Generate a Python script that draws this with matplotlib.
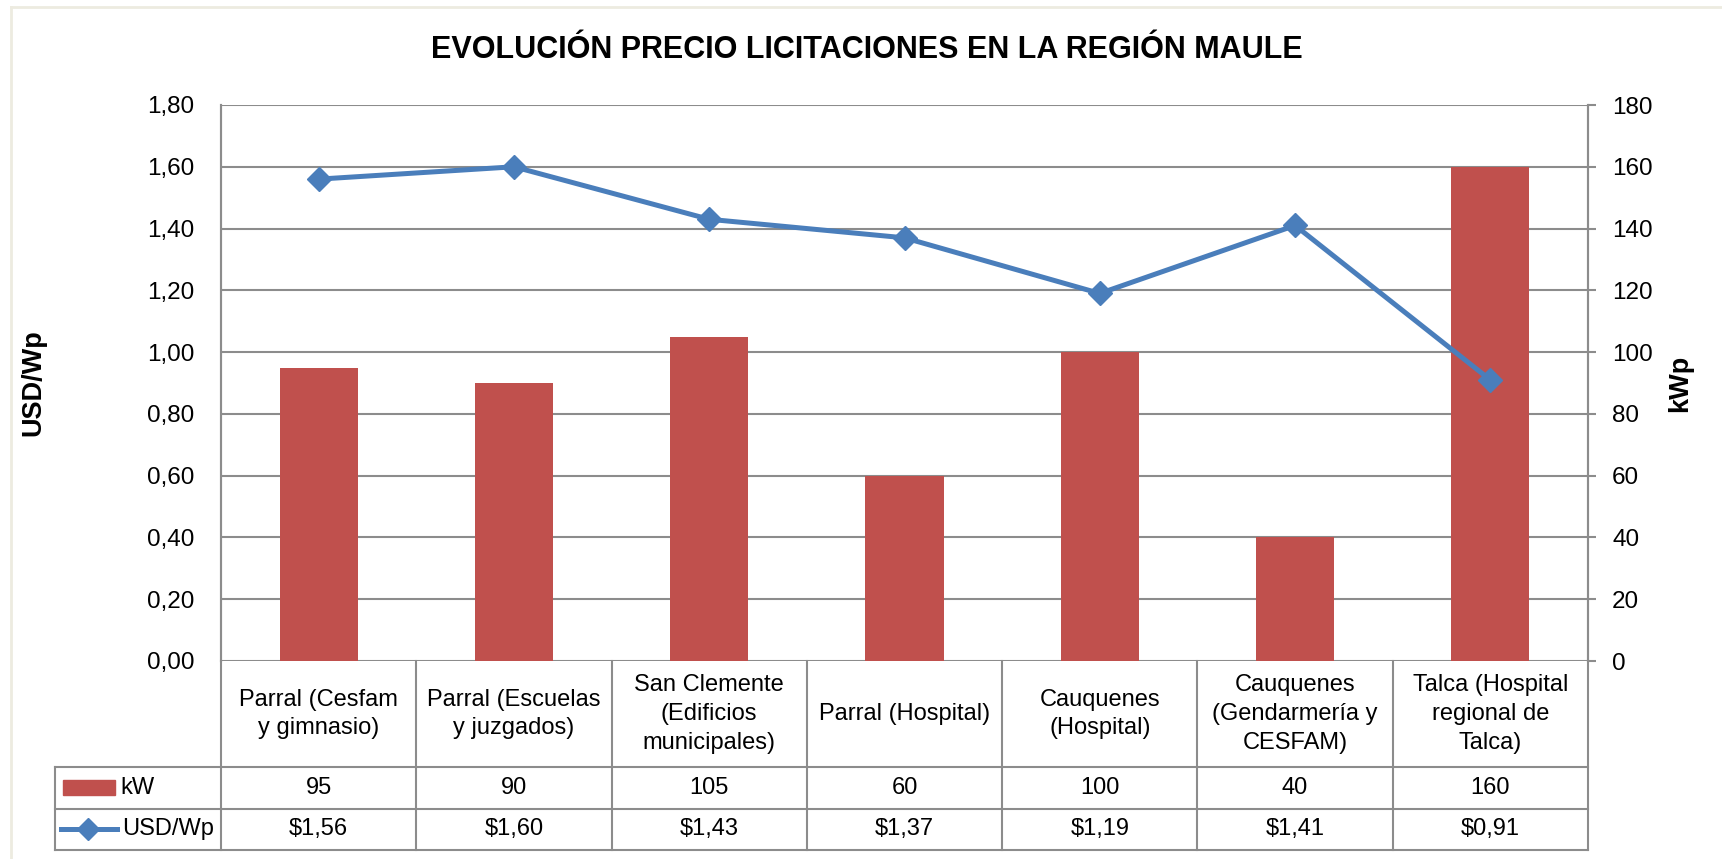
import numpy as np
import matplotlib
matplotlib.use("Agg")
import matplotlib.pyplot as plt
from matplotlib.patches import Rectangle
from matplotlib.lines import Line2D

plt.rcParams['font.family'] = ['Liberation Sans', 'DejaVu Sans']

# data
categories = ["Parral (Cesfam\ny gimnasio)", "Parral (Escuelas\ny juzgados)",
              "San Clemente\n(Edificios\nmunicipales)", "Parral (Hospital)",
              "Cauquenes\n(Hospital)", "Cauquenes\n(Gendarmería y\nCESFAM)",
              "Talca (Hospital\nregional de\nTalca)"]
kw = [95, 90, 105, 60, 100, 40, 160]
usd_wp = [1.56, 1.60, 1.43, 1.37, 1.19, 1.41, 0.91]

bar_color = '#C0504D'
line_color = '#4A7EBB'
grid_color = '#8C8C8C'

W, H = 1722, 859
fig = plt.figure(figsize=(W / 100, H / 100), dpi=100)

# plot area in pixels: x 221..1588, y 105..661
L, R, T, B = 221, 1588, 105, 661
ax = fig.add_axes([L / W, 1 - B / H, (R - L) / W, (B - T) / H])
ax2 = ax.twinx()

x = np.arange(len(categories))

# bars on the right axis (kWp)
ax2.bar(x, kw, width=0.4, color=bar_color, zorder=2)
ax2.set_ylim(0, 180)
ax2.set_yticks(np.arange(0, 181, 20))
ax2.set_axisbelow(True)
ax2.grid(axis='y', color=grid_color, linewidth=1.5)
ax2.tick_params(axis='y', length=5.8, width=1.5, color=grid_color,
                pad=11.5, labelsize=17.5)

# line on the left axis (USD/Wp)
ax.set_zorder(ax2.get_zorder() + 1)
ax.patch.set_visible(False)
ax.plot(x, usd_wp, color=line_color, linewidth=3.6, marker='D',
        markersize=12, zorder=3)
ax.set_ylim(0, 1.8)
ax.set_yticks(np.arange(0, 1.81, 0.2))
ax.set_yticklabels([f"{v:.2f}".replace('.', ',') for v in np.arange(0, 1.81, 0.2)])
ax.tick_params(axis='y', length=0, pad=19, labelsize=17.5)
ax.set_xlim(-0.5, len(categories) - 0.5)
ax.set_xticks([])

for a in (ax, ax2):
    for side in ('top', 'bottom'):
        a.spines[side].set_visible(False)
    for side in ('left', 'right'):
        a.spines[side].set_color(grid_color)
        a.spines[side].set_linewidth(1.5)


def px(xp, yp):
    return (xp - L) / (R - L), (B - yp) / (B - T)


def seg(x0, y0, x1, y1):
    (a0, b0), (a1, b1) = px(x0, y0), px(x1, y1)
    ax.add_line(Line2D([a0, a1], [b0, b1], transform=ax.transAxes,
                       color=grid_color, linewidth=1.5, clip_on=False))


# data table under the plot
row_y = [661, 767, 809, 850]
colw = (R - L) / len(categories)
col_x = [L + k * colw for k in range(len(categories) + 1)]
seg(55, 767, 55, 850)
for cx in col_x:
    seg(cx, 661, cx, 850)
for ry in row_y[1:]:
    seg(55, ry, R, ry)

kw_labels = [str(v) for v in kw]
usd_labels = [f"${v:.2f}".replace('.', ',') for v in usd_wp]
for j, cat in enumerate(categories):
    cx = (col_x[j] + col_x[j + 1]) / 2
    ax.text(*px(cx, (row_y[0] + row_y[1]) / 2), cat, transform=ax.transAxes,
            ha='center', va='center', fontsize=17, linespacing=1.4)
    ax.text(*px(cx, (row_y[1] + row_y[2]) / 2), kw_labels[j], transform=ax.transAxes,
            ha='center', va='center', fontsize=17)
    ax.text(*px(cx, (row_y[2] + row_y[3]) / 2), usd_labels[j], transform=ax.transAxes,
            ha='center', va='center', fontsize=17)

# legend keys inside the table
x0, y0 = px(63, 795)
x1, y1 = px(115, 780)
ax.add_patch(Rectangle((x0, y0), x1 - x0, y1 - y0, transform=ax.transAxes,
                       color=bar_color, clip_on=False))
ax.text(*px(120, 788), "kW", transform=ax.transAxes, fontsize=17,
        ha='left', va='center')
lx0, ly = px(61, 829)
lx1, _ = px(117, 829)
lxm, _ = px(88, 829)
ax.add_line(Line2D([lx0, lx1], [ly, ly], transform=ax.transAxes,
                   color=line_color, linewidth=3.6, clip_on=False))
ax.add_line(Line2D([lxm], [ly], transform=ax.transAxes, color=line_color,
                   marker='D', markersize=11, clip_on=False))
ax.text(*px(122, 829.5), "USD/Wp", transform=ax.transAxes, fontsize=17,
        ha='left', va='center')

# titles
fig.text(867 / W, 1 - 49.5 / H, "EVOLUCIÓN PRECIO LICITACIONES EN LA REGIÓN MAULE",
         ha='center', va='center', fontsize=22, fontweight='bold')
fig.text(33 / W, 1 - 383 / H, "USD/Wp", rotation=90, ha='center', va='center',
         fontsize=19.5, fontweight='bold')
fig.text(1680 / W, 1 - 383 / H, "kWp", rotation=90, ha='center', va='center',
         fontsize=19.5, fontweight='bold')

# chart area border (top and left visible)
fig.add_artist(Line2D([11 / W, 11 / W], [0, 1 - 7 / H], transform=fig.transFigure,
                      color='#EDEBE0', linewidth=2))
fig.add_artist(Line2D([11 / W, 1], [1 - 7 / H, 1 - 7 / H], transform=fig.transFigure,
                      color='#EDEBE0', linewidth=2))

fig.savefig("out.png", dpi=100)
